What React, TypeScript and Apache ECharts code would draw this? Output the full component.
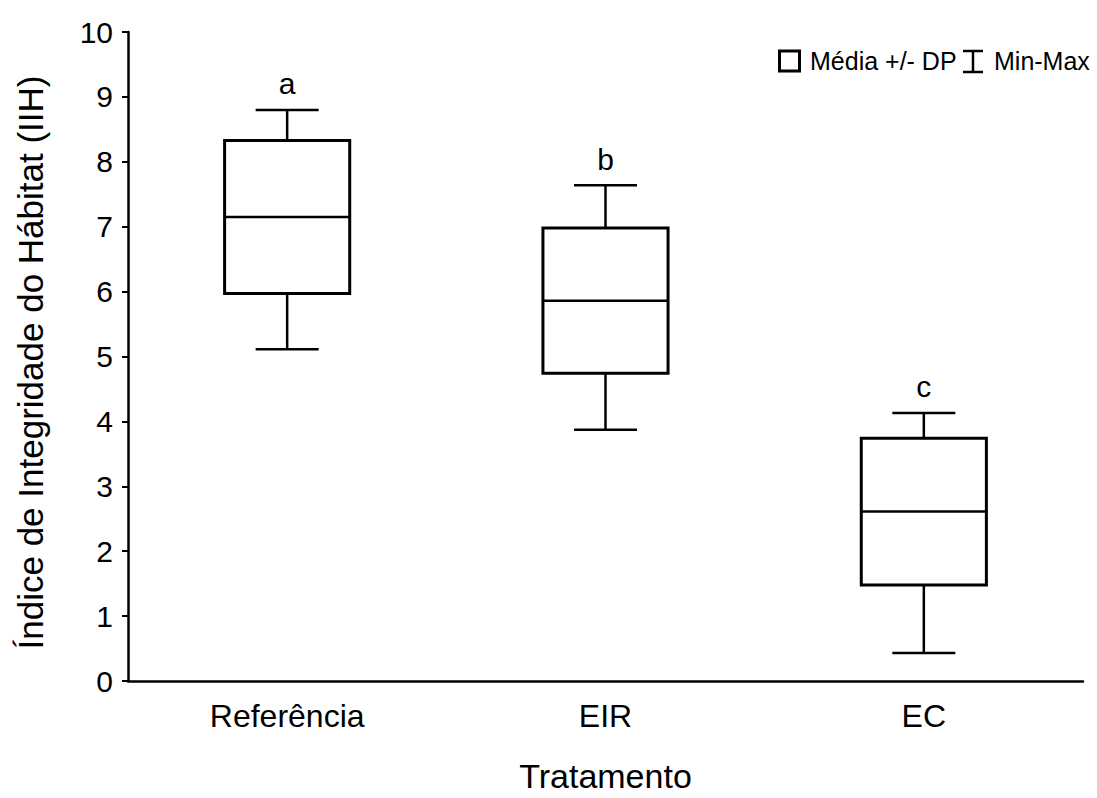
import React, { useEffect, useRef } from "react";
import * as echarts from "echarts";

// Treatments and their summary statistics (mean, standard deviation, range)
const categories = ["Referência", "EIR", "EC"];
const means = [7.15, 5.86, 2.61];
const sds = [1.18, 1.12, 1.13];
const mins = [5.11, 3.87, 0.43];
const maxs = [8.8, 7.64, 4.13];
const groupLetters = ["a", "b", "c"];
const yTicks = [0, 1, 2, 3, 4, 5, 6, 7, 8, 9, 10];

const FONT = "'Liberation Sans', Arial, sans-serif";

export default function App() {
  const ref = useRef<HTMLDivElement>(null);

  useEffect(() => {
    if (!ref.current) return;
    const chart = echarts.init(ref.current, undefined, { renderer: "svg" });

    const data = categories.map((c, i) => [i, means[i], sds[i], mins[i], maxs[i], groupLetters[i]]);

    const renderItem = (params: any, api: any) => {
      const xi = api.value(0);
      const mean = api.value(1);
      const sd = api.value(2);
      const lo = api.value(3);
      const hi = api.value(4);
      const letter = data[params.dataIndex][5] as string;
      const band = api.size([1, 0])[0];
      const boxW = band * 0.393;
      const capW = band * 0.198;
      const pMean = api.coord([xi, mean]);
      const pTop = api.coord([xi, mean + sd]);
      const pBot = api.coord([xi, mean - sd]);
      const pMax = api.coord([xi, hi]);
      const pMin = api.coord([xi, lo]);
      const cx = pMean[0];
      const line = (x1: number, y1: number, x2: number, y2: number, w: number) => ({
        type: "line",
        shape: { x1, y1, x2, y2 },
        style: { stroke: "#000", lineWidth: w },
      });
      return {
        type: "group",
        children: [
          line(cx, pTop[1], cx, pMax[1], 2.5),
          line(cx, pBot[1], cx, pMin[1], 2.5),
          line(cx - capW / 2, pMax[1], cx + capW / 2, pMax[1], 2.5),
          line(cx - capW / 2, pMin[1], cx + capW / 2, pMin[1], 2.5),
          {
            type: "rect",
            shape: { x: cx - boxW / 2, y: pTop[1], width: boxW, height: pBot[1] - pTop[1] },
            style: { fill: "#fff", stroke: "#000", lineWidth: 3 },
          },
          line(cx - boxW / 2, pMean[1], cx + boxW / 2, pMean[1], 2.5),
          {
            type: "text",
            x: cx,
            y: pMax[1] - 26,
            style: {
              text: letter,
              fontSize: 30,
              fontFamily: FONT,
              fill: "#000",
              align: "center",
              verticalAlign: "middle",
            },
          },
        ],
      };
    };

    chart.setOption({
      animation: false,
      backgroundColor: "#fff",
      grid: { left: 128, right: 14, top: 32, bottom: 114, containLabel: false },
      xAxis: {
        type: "category",
        data: categories,
        boundaryGap: true,
        name: "Tratamento",
        nameLocation: "middle",
        nameGap: 78,
        nameTextStyle: { fontSize: 34, fontFamily: FONT, color: "#000" },
        axisLine: { lineStyle: { color: "#000", width: 2.5 } },
        axisTick: { inside: true, alignWithLabel: true, length: 6, lineStyle: { color: "#000", width: 2 } },
        axisLabel: { fontSize: 32, fontFamily: FONT, color: "#000", margin: 19 },
        splitLine: { show: false },
      },
      yAxis: {
        type: "value",
        min: yTicks[0],
        max: yTicks[yTicks.length - 1],
        interval: 1,
        name: "Índice de Integridade do Hábitat (IIH)",
        nameLocation: "middle",
        nameGap: 80,
        nameTextStyle: { fontSize: 35, fontFamily: FONT, color: "#000", padding: [0, 12, 0, 0] },
        axisLine: { show: true, lineStyle: { color: "#000", width: 2.5 } },
        axisTick: { show: true, inside: false, length: 6, lineStyle: { color: "#000", width: 2 } },
        axisLabel: { fontSize: 30, fontFamily: FONT, color: "#000", margin: 15 },
        splitLine: { show: false },
      },
      series: [
        {
          type: "custom",
          renderItem,
          data,
          encode: { x: 0, y: [1, 3, 4] },
          clip: false,
        },
      ],
      graphic: [
        {
          type: "rect",
          shape: { x: 779.5, y: 51, width: 20, height: 20 },
          style: { fill: "#fff", stroke: "#000", lineWidth: 3 },
        },
        {
          type: "text",
          x: 810,
          y: 61,
          style: {
            text: "Média +/- DP",
            fontSize: 25,
            fontFamily: FONT,
            fill: "#000",
            align: "left",
            verticalAlign: "middle",
          },
        },
        {
          type: "group",
          x: 963,
          y: 50,
          children: [
            { type: "line", shape: { x1: 0, y1: 1, x2: 20, y2: 1 }, style: { stroke: "#000", lineWidth: 2.5 } },
            { type: "line", shape: { x1: 10, y1: 1, x2: 10, y2: 22 }, style: { stroke: "#000", lineWidth: 2.5 } },
            { type: "line", shape: { x1: 0, y1: 22, x2: 20, y2: 22 }, style: { stroke: "#000", lineWidth: 2.5 } },
          ],
        },
        {
          type: "text",
          x: 994,
          y: 61,
          style: {
            text: "Min-Max",
            fontSize: 25,
            fontFamily: FONT,
            fill: "#000",
            align: "left",
            verticalAlign: "middle",
          },
        },
      ],
    });

    return () => chart.dispose();
  }, []);

  return (
    <div
      ref={ref}
      style={{ position: "fixed", left: 0, top: 0, width: 1097, height: 798 }}
    />
  );
}
